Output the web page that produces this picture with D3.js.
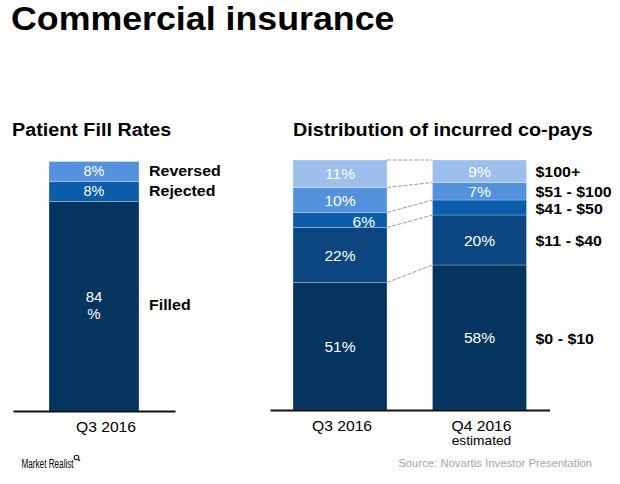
<!DOCTYPE html>
<html>
<head>
<meta charset="utf-8">
<script src="https://cdn.jsdelivr.net/npm/d3@7"></script>
<style>
  html, body { margin: 0; padding: 0; background: #fff; }
  svg { display: block; font-family: "Liberation Sans", Arial, Helvetica, sans-serif; }
</style>
</head>
<body>
<svg id="chart" width="620" height="484"></svg>
<script>
// ---------- data ----------
const fillCategories = ["Q3 2016"];
const fillSeries = ["Filled", "Rejected", "Reversed"];
const fillValues = [84, 8, 8];
const fillLabels = [["84", "%"], ["8%"], ["8%"]];

const copayCategories = ["Q3 2016", "Q4 2016"];
const copaySeries = ["$0 - $10", "$11 - $40", "$41 - $50", "$51 - $100", "$100+"];
const copayQ3 = [51, 22, 6, 10, 11];
const copayQ4 = [58, 20, 6, 7, 9];
const copayLabelsQ3 = ["51%", "22%", "6%", "10%", "11%"];
const copayLabelsQ4 = ["58%", "20%", "", "7%", "9%"];

const fillColors = ["#05345f", "#0b5ca9", "#5592dd"];
const copayColors = ["#05345f", "#0b4680", "#0b5ca9", "#5592dd", "#9cbfec"];

const svg = d3.select("#chart");
const FONT = "'Liberation Sans', Arial, Helvetica, sans-serif";

function txt(g, x, y, str, o) {
  o = o || {};
  return g.append("text")
    .attr("transform", `translate(${x},${y}) scale(${o.sx || 1},1)`)
    .attr("text-anchor", o.anchor || "start")
    .style("font-size", (o.size || 14) + "px")
    .style("font-weight", o.weight || "normal")
    .style("font-family", o.family || FONT)
    .attr("fill", o.fill || "#000")
    .text(str);
}

function stackOf(values) {
  let acc = 0;
  return values.map((v, i) => { const s = { i, y0: acc, y1: acc + v, v }; acc += v; return s; });
}

// ---------- title ----------
txt(svg, 11, 29.5, "Commercial insurance", { size: 32.5, weight: "bold", sx: 1.1 });

// ---------- left chart: Patient Fill Rates ----------
txt(svg, 12, 136, "Patient Fill Rates", { size: 17.5, weight: "bold", sx: 1.13 });

const xL = d3.scaleBand().domain(fillCategories).range([13, 175]).paddingInner(0).paddingOuter(0.4);
const yL = d3.scaleLinear().domain([0, 100]).range([411, 161.5]);
const gL = svg.append("g");
const stackL = stackOf(fillValues);

gL.selectAll("rect").data(stackL).join("rect")
  .attr("x", xL(fillCategories[0]))
  .attr("width", xL.bandwidth())
  .attr("y", d => yL(d.y1))
  .attr("height", d => yL(d.y0) - yL(d.y1))
  .attr("fill", d => fillColors[d.i])
  .attr("stroke", "rgba(255,255,255,0.25)")
  .attr("stroke-width", 1);

stackL.forEach(d => {
  const cx = xL(fillCategories[0]) + xL.bandwidth() / 2;
  const cy = (yL(d.y0) + yL(d.y1)) / 2;
  const lines = fillLabels[d.i];
  if (lines.length === 1) {
    txt(gL, cx, cy + 5, lines[0], { size: 14, sx: 1.03, anchor: "middle", fill: "#fff" });
  } else {
    txt(gL, cx, cy - 4, lines[0], { size: 14.5, sx: 1.03, anchor: "middle", fill: "#fff" });
    txt(gL, cx, cy + 13, lines[1], { size: 14.5, sx: 1.03, anchor: "middle", fill: "#fff" });
  }
  const ly = d.i === 0 ? cy + 4 : cy + 5;
  txt(gL, xL(fillCategories[0]) + xL.bandwidth() + 10, ly, fillSeries[d.i], { size: 14.5, weight: "bold", sx: 1.1 });
});

const axL = gL.append("g").attr("transform", `translate(0,${yL(0)})`)
  .call(d3.axisBottom(xL).tickSize(0).tickSizeOuter(0).tickPadding(0));
axL.select(".domain").attr("stroke", "#111").attr("stroke-width", 2);
axL.selectAll(".tick text").remove();
axL.selectAll(".tick").each(function(d) {
  txt(d3.select(this), 12, 21, d, { size: 14.5, sx: 1.08, anchor: "middle" });
});

// ---------- right chart: Distribution of incurred co-pays ----------
txt(svg, 293, 136, "Distribution of incurred co-pays", { size: 17.5, weight: "bold", sx: 1.13 });

const xR = d3.scaleBand().domain(copayCategories).range([270, 549.5]).paddingInner(0.326).paddingOuter(0.165);
const yR = d3.scaleLinear().domain([0, 100]).range([410, 160]);
const gR = svg.append("g");
const stacksR = [stackOf(copayQ3), stackOf(copayQ4)];
const labelsR = [copayLabelsQ3, copayLabelsQ4];

// connector lines between bars
const q3Right = xR(copayCategories[0]) + xR.bandwidth();
const q4Left = xR(copayCategories[1]);
stacksR[0].forEach((d, i) => {
  gR.append("line")
    .attr("x1", q3Right).attr("x2", q4Left)
    .attr("y1", yR(d.y1)).attr("y2", yR(stacksR[1][i].y1))
    .attr("stroke", "#9a9a9a").attr("stroke-width", 1).attr("stroke-dasharray", "4,1.5");
});

stacksR.forEach((stack, ci) => {
  const cat = copayCategories[ci];
  gR.append("g").selectAll("rect").data(stack).join("rect")
    .attr("x", xR(cat))
    .attr("width", xR.bandwidth())
    .attr("y", d => yR(d.y1))
    .attr("height", d => yR(d.y0) - yR(d.y1))
    .attr("fill", d => copayColors[d.i])
    .attr("stroke", "rgba(255,255,255,0.25)")
    .attr("stroke-width", 1);
  stack.forEach(d => {
    const lab = labelsR[ci][d.i];
    if (!lab) return;
    const cy = (yR(d.y0) + yR(d.y1)) / 2;
    let cx = xR(cat) + xR.bandwidth() / 2;
    let anchor = "middle";
    let dy = 5.5;
    if (ci === 0 && d.i === 2) { cx = xR(cat) + xR.bandwidth() - 12; anchor = "end"; dy = 6.5; }
    txt(gR, cx, cy + dy, lab, { size: 15, sx: 1.04, anchor, fill: "#fff" });
  });
});

// legend labels at Q4 segment centres
stacksR[1].forEach(d => {
  const cy = (yR(d.y0) + yR(d.y1)) / 2;
  txt(gR, xR(copayCategories[1]) + xR.bandwidth() + 9, cy + 6, copaySeries[d.i], { size: 14.5, weight: "bold", sx: 1.1 });
});

const axR = gR.append("g").attr("transform", `translate(0,${yR(0)})`)
  .call(d3.axisBottom(xR).tickSize(0).tickSizeOuter(0).tickPadding(0));
axR.select(".domain").attr("stroke", "#111").attr("stroke-width", 2);
axR.selectAll(".tick text").remove();
axR.selectAll(".tick").each(function(d, i) {
  const t = d3.select(this);
  txt(t, 2, 21, d, { size: 14.5, sx: 1.08, anchor: "middle" });
  if (i === 1) txt(t, 2, 35, "estimated", { size: 12.5, sx: 1.1, anchor: "middle" });
});

// ---------- footer ----------
txt(svg, 21.5, 468, "Market Realist", { size: 12, sx: 0.68, family: "'Liberation Sans Narrow', 'Liberation Sans', Arial, sans-serif" });
svg.append("circle").attr("cx", 76.5).attr("cy", 457.5).attr("r", 2.3).attr("fill", "none").attr("stroke", "#222").attr("stroke-width", 1.1);
svg.append("line").attr("x1", 78).attr("y1", 459).attr("x2", 80).attr("y2", 461).attr("stroke", "#222").attr("stroke-width", 1.2);
txt(svg, 592, 467, "Source: Novartis Investor Presentation", { size: 10.5, sx: 1.08, anchor: "end", fill: "#a6a6a6" });
</script>
</body>
</html>
